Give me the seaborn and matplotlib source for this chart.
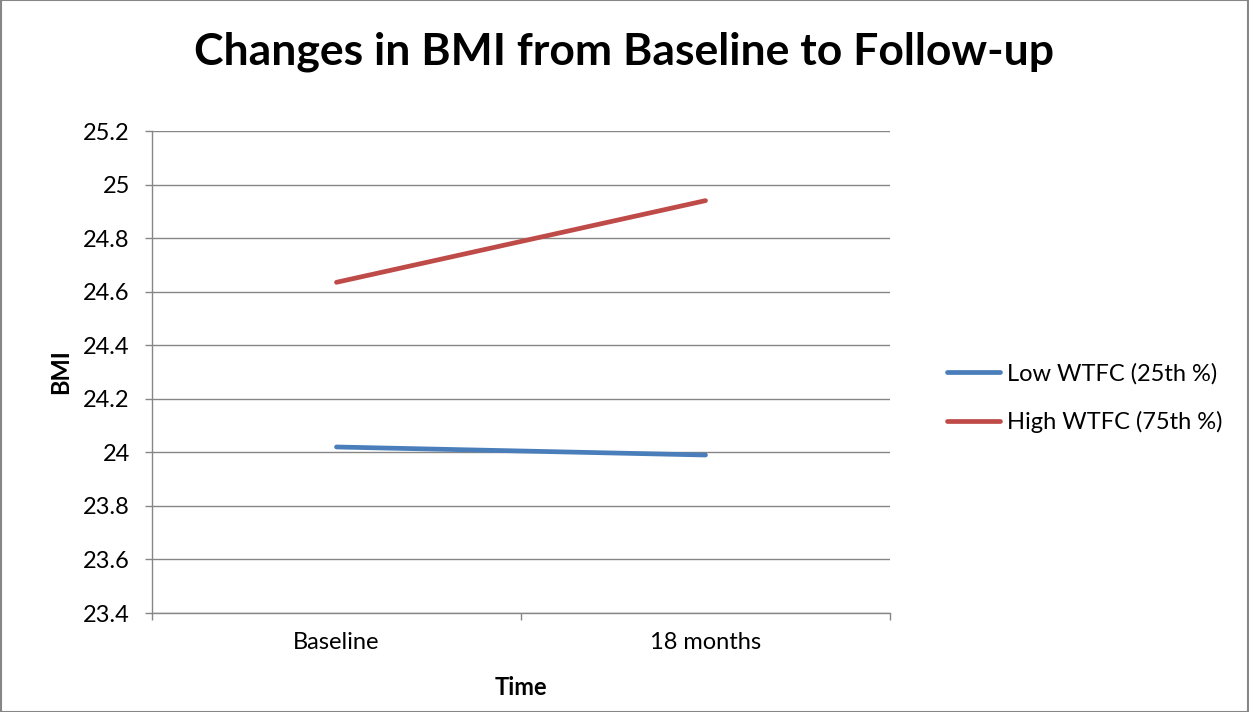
import pandas as pd
import matplotlib
matplotlib.use("Agg")
import matplotlib.pyplot as plt
import seaborn as sns

sns.set_theme(style="white")
plt.rcParams["font.family"] = ["Lato", "DejaVu Sans"]
plt.rcParams["text.color"] = "black"
plt.rcParams["axes.labelcolor"] = "black"
plt.rcParams["xtick.color"] = "black"
plt.rcParams["ytick.color"] = "black"

# data
times = ["Baseline", "18 months"]
low_wtfc = [24.02, 23.99]
high_wtfc = [24.635, 24.94]
series_names = ["Low WTFC (25th %)", "High WTFC (75th %)"]
y_ticks = [23.4, 23.6, 23.8, 24, 24.2, 24.4, 24.6, 24.8, 25, 25.2]

df = pd.DataFrame({
    "Time": times * 2,
    "BMI": low_wtfc + high_wtfc,
    "group": [series_names[0]] * 2 + [series_names[1]] * 2,
})

GRID = "#868686"
fig = plt.figure(figsize=(12.49, 7.12), dpi=100)
ax = fig.add_axes([152 / 1249, 1 - 613 / 712, (890 - 152) / 1249, (613 - 131) / 712])

sns.lineplot(data=df, x="Time", y="BMI", hue="group", hue_order=series_names,
             palette=["#4A7EBB", "#BE4B48"], linewidth=3.4, ax=ax, sort=False)

ax.set_xlim(-0.5, 1.5)
ax.set_ylim(23.4, 25.2)
ax.set_yticks(y_ticks)
ax.set_yticklabels([f"{v:g}" for v in y_ticks])
ax.set_xticks([0, 1])
ax.set_xticklabels(times)
ax.set_xticks([-0.5, 0.5, 1.5], minor=True)
ax.tick_params(axis="x", which="major", length=0, pad=14, labelsize=17)
ax.tick_params(axis="x", which="minor", length=5, color=GRID, width=1, bottom=True)
ax.tick_params(axis="y", length=5, color=GRID, width=1, left=True, pad=11, labelsize=17)
ax.yaxis.grid(True, color=GRID, linewidth=1)
for side in ["top", "right"]:
    ax.spines[side].set_visible(False)
for side in ["left", "bottom"]:
    ax.spines[side].set_color(GRID)
    ax.spines[side].set_linewidth(1)

ax.set_xlabel("Time", fontsize=17, fontweight="bold", labelpad=16)
ax.set_ylabel("BMI", fontsize=17, fontweight="bold", labelpad=8)

fig.suptitle("Changes in BMI from Baseline to Follow-up", fontsize=32,
             fontweight="bold", x=0.5, y=1 - 52 / 712, va="center")

ax.legend(title=None, frameon=False, loc="center left", bbox_to_anchor=(1.077, 0.446),
          borderaxespad=0, borderpad=0, fontsize=17, handlelength=2.25,
          handletextpad=0.3, labelspacing=1.13)

fig.patches.append(plt.Rectangle((0.0005, 0.0007), 0.999, 0.9986, transform=fig.transFigure,
                                 fill=False, edgecolor=GRID, linewidth=1.5))

fig.savefig("out.png", dpi=100)
